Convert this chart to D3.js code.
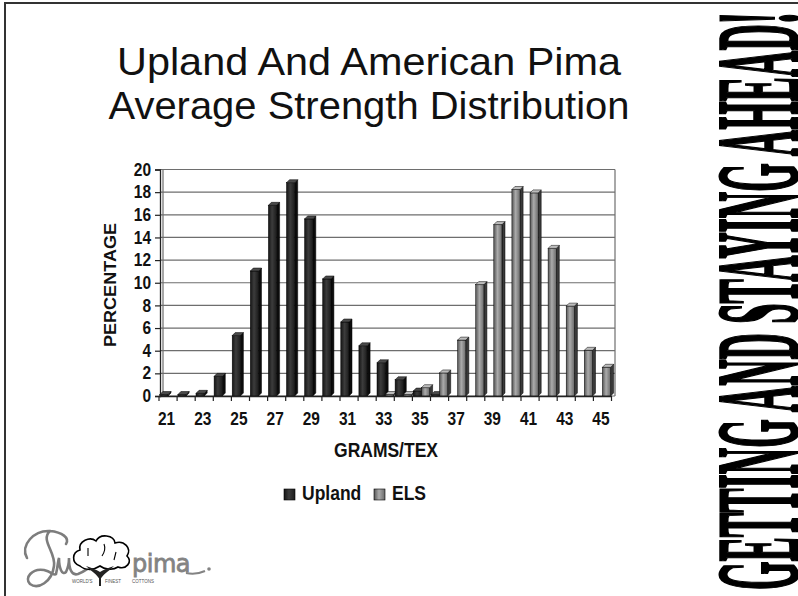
<!DOCTYPE html>
<html>
<head>
<meta charset="utf-8">
<script src="https://cdn.jsdelivr.net/npm/d3@7"></script>
<style>
  html, body { margin: 0; padding: 0; background: #fff; }
  svg { display: block; }
</style>
</head>
<body>
<script>
// Strength classes (grams/tex) and percentage of bales in each class
const categories = [21, 22, 23, 24, 25, 26, 27, 28, 29, 30, 31, 32, 33, 34, 35, 36, 37, 38, 39, 40, 41, 42, 43, 44, 45];
const uplandValues = [0.1, 0.2, 0.5, 2.0, 5.6, 11.3, 17.1, 19.1, 15.9, 10.6, 6.8, 4.7, 3.2, 1.7, 0.7, 0.4, 0, 0, 0, 0, 0, 0, 0, 0, 0];
const elsValues = [0, 0, 0, 0, 0, 0, 0, 0, 0, 0, 0, 0, 0.05, 0.3, 1.0, 2.3, 5.2, 10.1, 15.4, 18.5, 18.2, 13.3, 8.2, 4.3, 2.8];
const seriesNames = ["Upland", "ELS"];
const yTickValues = [0, 2, 4, 6, 8, 10, 12, 14, 16, 18, 20];
const xTickLabels = [21, 23, 25, 27, 29, 31, 33, 35, 37, 39, 41, 43, 45];
const titleLines = ["Upland And American Pima", "Average Strength Distribution"];
const titleWidths = [504, 521];

const W = 798, H = 596;
const SY = 1.13;          // slight vertical stretch of the slide lettering
const DX = 3, DY = 3;     // 3-D depth of the columns

const svg = d3.select("body").append("svg").attr("width", W).attr("height", H);

// ---------- gradients ----------
const defs = svg.append("defs");
function hGrad(id, stops) {
  const g = defs.append("linearGradient").attr("id", id).attr("x1", "0").attr("x2", "1").attr("y1", "0").attr("y2", "0");
  stops.forEach(s => g.append("stop").attr("offset", s[0]).attr("stop-color", s[1]));
}
hGrad("gUpland", [["0%", "#151515"], ["45%", "#3c3c3c"], ["100%", "#1c1c1c"]]);
hGrad("gEls", [["0%", "#555"], ["45%", "#ababab"], ["100%", "#6a6a6a"]]);
const faces = {
  Upland: { front: "url(#gUpland)", side: "#0c0c0c", top: "#4a4a4a" },
  ELS: { front: "url(#gEls)", side: "#3a3a3a", top: "#bdbdbd" }
};

// ---------- slide frame ----------
svg.append("line").attr("x1", 4).attr("x2", W).attr("y1", 3).attr("y2", 3)
  .attr("stroke", "#333").attr("stroke-width", 2);
svg.append("line").attr("x1", 5).attr("x2", 5).attr("y1", 2).attr("y2", H)
  .attr("stroke", "#333").attr("stroke-width", 2);

// ---------- title ----------
svg.selectAll("text.title").data(titleLines).join("text")
  .attr("class", "title")
  .attr("text-anchor", "middle")
  .attr("x", 369)
  .attr("y", (d, i) => 75 + i * 43.5)
  .attr("textLength", (d, i) => titleWidths[i]).attr("lengthAdjust", "spacingAndGlyphs")
  .style("font-family", "'Liberation Sans', Arial, sans-serif")
  .style("font-size", "38.5px")
  .attr("fill", "#111")
  .text(d => d);

// ---------- scales ----------
const x = d3.scaleBand().domain(categories).range([159, 611.5]).paddingInner(0).paddingOuter(0);
const x1 = d3.scaleBand().domain(seriesNames).range([0.8, 17.2]).padding(0);
const y = d3.scaleLinear().domain([0, 20]).range([396, 169.5]);

const plot = svg.append("g");

// back wall: gridlines and edges
plot.selectAll("line.grid").data(yTickValues).join("line")
  .attr("class", "grid")
  .attr("x1", 160).attr("x2", x.range()[1] + DX + 0.5)
  .attr("y1", d => y(d)).attr("y2", d => y(d))
  .attr("stroke", "#6e6e6e").attr("stroke-width", 1.2);
plot.append("line").attr("x1", 163).attr("x2", 163).attr("y1", y(20)).attr("y2", y(0))
  .attr("stroke", "#6e6e6e").attr("stroke-width", 1.2);
plot.append("line").attr("x1", x.range()[1] + DX + 0.5).attr("x2", x.range()[1] + DX + 0.5)
  .attr("y1", y(20)).attr("y2", y(0))
  .attr("stroke", "#6e6e6e").attr("stroke-width", 1.2);

// ---------- columns ----------
function drawColumn(g, x0, w, v, s) {
  const yb = y(0);
  const yt = Math.min(y(v) + DY, yb - 1.5);
  const f = faces[s];
  g.append("path")
    .attr("d", `M${x0 + w},${yt}L${x0 + w + DX},${yt - DY}L${x0 + w + DX},${yb - DY}L${x0 + w},${yb}Z`)
    .attr("fill", f.side).attr("stroke", "#000").attr("stroke-width", 0.5);
  g.append("rect").attr("x", x0).attr("y", yt).attr("width", w).attr("height", yb - yt)
    .attr("fill", f.front).attr("stroke", "#000").attr("stroke-width", 0.5);
  g.append("path")
    .attr("d", `M${x0},${yt}L${x0 + DX},${yt - DY}L${x0 + w + DX},${yt - DY}L${x0 + w},${yt}Z`)
    .attr("fill", f.top).attr("stroke", "#000").attr("stroke-width", 0.5);
}

const rows = categories.map((c, i) => ({
  cat: c,
  bars: [{ s: "Upland", v: uplandValues[i] }, { s: "ELS", v: elsValues[i] }]
}));

plot.selectAll("g.cat").data(rows).join("g")
  .attr("class", "cat")
  .attr("transform", d => `translate(${x(d.cat)},0)`)
  .each(function (d) {
    const g = d3.select(this);
    d.bars.forEach(b => { if (b.v > 0) drawColumn(g, x1(b.s), x1.bandwidth(), b.v, b.s); });
  });

// ---------- axes ----------
const labelFont = "'Liberation Sans', Arial, sans-serif";

const yAxis = svg.append("g").attr("transform", "translate(160,0)")
  .call(d3.axisLeft(y).tickValues(yTickValues).tickSize(5).tickPadding(4).tickFormat(d3.format("d")));
yAxis.select(".domain").attr("stroke", "#222").attr("stroke-width", 1.3);
yAxis.selectAll(".tick line").attr("stroke", "#222").attr("stroke-width", 1.2);
yAxis.selectAll(".tick text")
  .attr("transform", `scale(1,${SY})`)
  .style("font-family", labelFont).style("font-size", "15.5px").style("font-weight", "bold")
  .attr("fill", "#111");

const xAxis = svg.append("g").attr("transform", `translate(0,${y(0)})`)
  .call(d3.axisBottom(x).tickValues(xTickLabels).tickSize(0).tickSizeOuter(0));
xAxis.select(".domain").attr("stroke", "#222").attr("stroke-width", 1.3);
xAxis.selectAll(".tick text")
  .attr("y", 0).attr("dy", null)
  .attr("transform", `translate(-1.5,29) scale(1,${SY})`)
  .style("font-family", labelFont).style("font-size", "15.5px").style("font-weight", "bold")
  .attr("fill", "#111");

// category boundary ticks along the floor
const boundaries = categories.map(c => x(c)).concat([x.range()[1]]);
xAxis.selectAll("line.bound").data(boundaries).join("line")
  .attr("class", "bound")
  .attr("x1", d => d).attr("x2", d => d).attr("y1", 0).attr("y2", 5)
  .attr("stroke", "#222").attr("stroke-width", 1.2);

// axis titles
svg.append("text")
  .attr("transform", `translate(116,285) rotate(-90) scale(${SY},1)`)
  .attr("text-anchor", "middle")
  .style("font-family", labelFont).style("font-size", "16px").style("font-weight", "bold")
  .attr("fill", "#111")
  .text("PERCENTAGE");

svg.append("text")
  .attr("transform", `translate(386,457) scale(1,${SY})`)
  .attr("text-anchor", "middle")
  .style("font-family", labelFont).style("font-size", "17.5px").style("font-weight", "bold")
  .attr("fill", "#111")
  .text("GRAMS/TEX");

// ---------- legend ----------
const legendPos = [{ s: "Upland", x: 284 }, { s: "ELS", x: 374 }];
const legend = svg.selectAll("g.legend").data(legendPos).join("g")
  .attr("class", "legend")
  .attr("transform", d => `translate(${d.x},489)`);
legend.append("rect").attr("width", 11).attr("height", 11)
  .attr("fill", d => faces[d.s].front).attr("stroke", "#000").attr("stroke-width", 0.6);
legend.append("text")
  .attr("transform", `translate(18,11) scale(1,${SY})`)
  .style("font-family", labelFont).style("font-size", "17.5px").style("font-weight", "bold")
  .attr("fill", "#111")
  .text(d => d.s);

// ---------- side banner (condensed to run the full slide height) ----------
const banner = svg.append("text")
  .style("font-family", "'Liberation Serif', 'Times New Roman', serif")
  .style("font-weight", "bold").style("font-size", "116px")
  .attr("fill", "#000").attr("stroke", "#000").attr("stroke-width", 3)
  .text("GETTING AND STAYING AHEAD!");
const bannerNatural = banner.node().getComputedTextLength();
const bannerSpan = 578;
banner.attr("transform", `translate(797,590) rotate(-90) scale(${bannerSpan / bannerNatural},1)`);

// ---------- Supima logo ----------
const logo = svg.append("g");
logo.append("path")
  .attr("d", "M27,558 C20,545 34,530 50,531 C62,532 70,538 66,544 M50,531 C40,540 56,552 54,566 C52,582 38,590 30,584 C24,578 32,568 44,570 C52,572 54,576 56,574 C58,566 58,560 59,558 C59,568 62,576 66,572 C69,566 69,560 69,558 C69,568 71,576 78,574 C84,572 88,568 92,566")
  .attr("fill", "none").attr("stroke", "#7d7d7d").attr("stroke-width", 2.6).attr("stroke-linecap", "round");
// cotton boll
logo.append("path")
  .attr("d", "M80,566 C71,563 72,552 80,550 C78,541 90,536 96,541 C100,533 114,535 115,543 C124,540 132,548 127,556 C133,562 126,570 118,567 C112,571 104,569 100,566 C94,570 86,571 80,566 Z")
  .attr("fill", "#fff").attr("stroke", "#000").attr("stroke-width", 1.6);
logo.append("path")
  .attr("d", "M88,548 L88,556 M104,544 C106,549 104,553 102,556 M116,552 L114,560")
  .attr("fill", "none").attr("stroke", "#000").attr("stroke-width", 1.1);
logo.append("path")
  .attr("d", "M86,566 C92,572 97,574 100,580 C103,574 108,572 114,566 C108,568 103,570 100,572 C97,570 92,568 86,566 Z M99,574 L99,586 L101,586 L101,574 Z")
  .attr("fill", "#222");
logo.append("text")
  .attr("x", 132).attr("y", 572)
  .style("font-family", "'DejaVu Sans', sans-serif").style("font-size", "24px")
  .attr("fill", "#838383").attr("stroke", "#838383").attr("stroke-width", 0.8).attr("letter-spacing", -0.5)
  .text("pima");
logo.append("path")
  .attr("d", "M186,573 Q196,575 205,571")
  .attr("fill", "none").attr("stroke", "#838383").attr("stroke-width", 2);
logo.append("circle").attr("cx", 209).attr("cy", 569).attr("r", 1.8).attr("fill", "#838383");
const tagline = [{ t: "WORLD'S", x: 72 }, { t: "FINEST", x: 105 }, { t: "COTTONS", x: 132 }];
logo.selectAll("text.tag").data(tagline).join("text")
  .attr("class", "tag")
  .attr("x", d => d.x).attr("y", 583)
  .style("font-family", "'Liberation Sans', sans-serif").style("font-size", "4.5px")
  .attr("fill", "#555")
  .text(d => d.t);
</script>
</body>
</html>
